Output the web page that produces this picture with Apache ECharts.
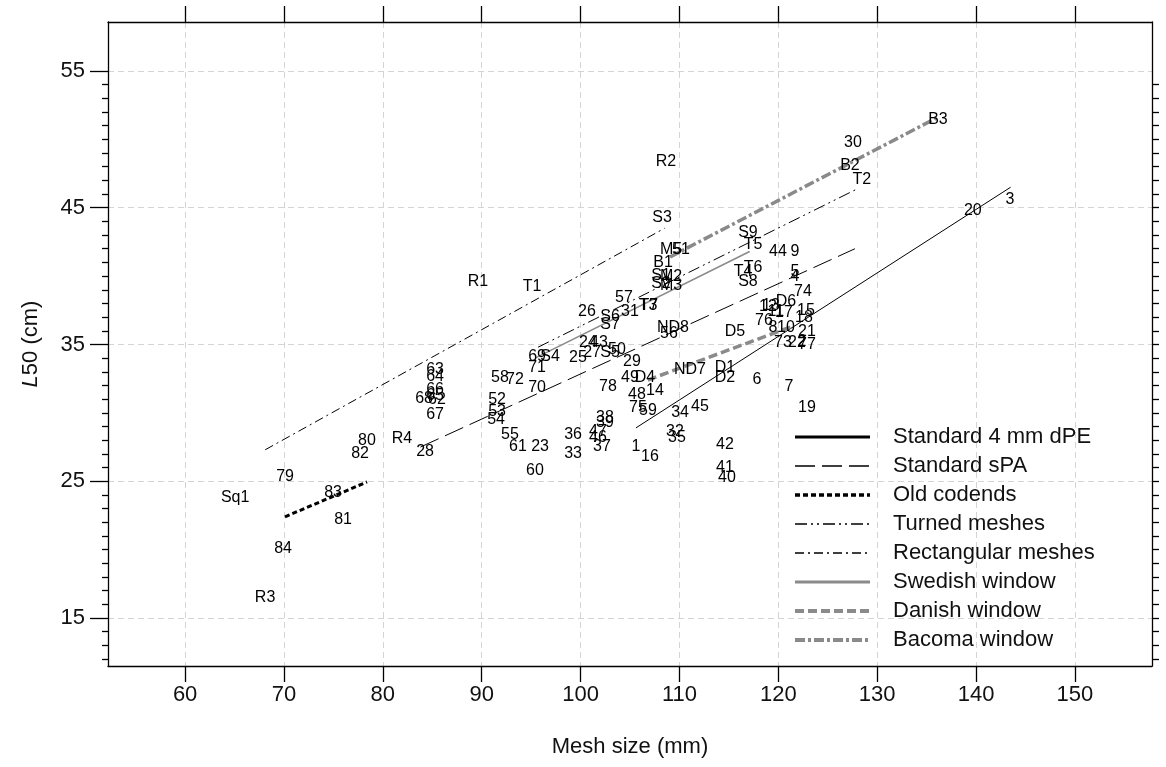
<!DOCTYPE html>
<html><head><meta charset="utf-8">
<script src="https://cdn.jsdelivr.net/npm/echarts@6/dist/echarts.min.js"></script>
<style>html,body{margin:0;padding:0;background:#fff}#c{width:1166px;height:767px}</style>
</head><body><div id="c"></div>
<script>
// ---- point labels (mesh size mm, L50 cm) ----
const labelNames = ['B3','30','B2','T2','20','3','R2','S3','M5','51','B1','S1','M2','S2','M3','R1','T1','57','T3','T7','31','26','S6','S7','ND8','56',
 '24','43','27','25','S5','50','29','69','S4','71','58','72','70','63','64','66','65','68','62','67','52','53','54','55','61','23','60','R4','28',
 '80','82','79','Sq1','83','81','84','R3','78','49','D4','14','48','75','59','34','45','38','39','36','47','46','33','37','1','16','32','35','42',
 '41','40','ND7','D1','D2','6','7','19','D5','S9','T5','44','9','T4','T6','S8','5','4','74','12','13','D6','11','17','15','18','76','8','10','21',
 '73','22','2','77'];
const labelMesh = [136.15,127.55,127.25,128.46,139.68,143.43,108.64,108.24,109.15,110.16,108.34,108.13,109.15,108.13,109.15,89.63,95.09,104.39,106.82,106.9,105.0,100.65,102.98,102.98,109.35,108.94,
 100.75,101.86,101.16,99.74,102.98,103.68,105.2,95.6,96.91,95.6,91.85,93.37,95.6,85.28,85.28,85.28,85.28,84.17,85.48,85.28,91.55,91.55,91.45,92.86,93.67,95.9,95.39,81.94,84.27,
 78.40,77.70,70.11,65.06,74.97,75.98,69.91,68.09,102.77,105.0,106.52,107.53,105.71,105.81,106.82,110.06,112.08,102.47,102.47,99.24,101.76,101.76,99.24,102.17,105.61,107.02,109.55,109.75,114.61,
 114.61,114.81,111.07,114.61,114.61,117.84,121.08,122.90,115.62,116.93,117.44,119.97,121.69,116.43,117.44,116.93,121.69,121.69,122.49,118.95,119.26,120.77,119.76,120.57,122.80,122.59,118.55,119.46,120.77,122.90,
 120.47,121.89,122.39,122.90];
const labelL50 = [51.42,49.73,48.05,47.03,44.76,45.57,48.35,44.25,41.91,41.91,40.96,40.01,39.94,39.42,39.28,39.57,39.20,38.40,37.82,37.86,37.38,37.38,37.01,36.43,36.21,35.77,
 35.11,35.11,34.38,34.01,34.38,34.60,33.72,34.09,34.09,33.28,32.55,32.40,31.82,33.14,32.62,31.67,31.23,31.01,30.94,29.84,30.94,30.06,29.48,28.38,27.50,27.50,25.75,28.09,27.14,
 27.94,26.99,25.31,23.78,24.14,22.17,20.05,16.46,31.89,32.55,32.55,31.60,31.31,30.36,30.14,29.99,30.43,29.63,29.26,28.38,28.60,28.16,26.99,27.50,27.50,26.77,28.60,28.16,27.65,
 25.97,25.24,33.14,33.28,32.55,32.40,31.89,30.36,35.91,43.15,42.28,41.76,41.76,40.30,40.59,39.57,40.30,39.94,38.84,37.74,37.82,38.11,37.38,37.30,37.45,36.94,36.72,36.21,36.21,35.91,
 35.11,35.11,35.18,34.96];

// ---- fitted lines per codend group ----
const lineNames = ['Standard 4 mm dPE','Standard sPA','Old codends','Turned meshes','Rectangular meshes','Swedish window','Danish window','Bacoma window'];
const lineMeshFrom = [105.6, 83.8, 70.1, 95.7, 68.1, 95.4, 106.8, 109.05];
const lineMeshTo   = [143.5, 127.75, 78.4, 128.05, 108.5, 117.1, 121.5, 136.1];
const lineL50From  = [28.9, 27.5, 22.4, 34.8, 27.3, 34.0, 32.4, 41.4];
const lineL50To    = [46.5, 42.0, 24.95, 46.4, 43.5, 41.8, 36.35, 51.6];

// ---- axes ----
const xTicks = [60,70,80,90,100,110,120,130,140,150];
const yTicks = [15,25,35,45,55];
const yMinor = [12,13,14,16,17,18,19,20,21,22,23,24,26,27,28,29,30,31,32,33,34,36,37,38,39,40,41,42,43,44,46,47,48,49,50,51,52,53,54];
const yAll = [12,13,14,15,16,17,18,19,20,21,22,23,24,25,26,27,28,29,30,31,32,33,34,35,36,37,38,39,40,41,42,43,44,45,46,47,48,49,50,51,52,53,54];
const xMin = 52.2, xMax = 157.8, yMin = 11.49, yMax = 58.58;

// ---- styles (not data) ----
const FONT = 'Liberation Sans, Arial, Helvetica, sans-serif';
const GREY = '#8a8a8a';
const lineStyles = [
  {color:'#000', width:1, type:'solid'},
  {color:'#000', width:1, type:[20,7]},
  {color:'#000', width:3, type:[5,3]},
  {color:'#000', width:1, type:[12,4,2,4,2,4]},
  {color:'#000', width:1, type:[9,4,2,4]},
  {color:GREY, width:1.6, type:'solid'},
  {color:GREY, width:3.5, type:[9,4]},
  {color:GREY, width:3.5, type:[10,3,3,3]}
];
const legendWidths = [3,1.6,3.5,1.6,1.6,3,4,4];

const pts = labelNames.map((n,i)=>[labelMesh[i], labelL50[i], n]);
const lineSeries = lineNames.map((n,i)=>({
  name:n, type:'line', symbol:'none', silent:true, z:2,
  xAxisIndex:0, yAxisIndex:0,
  color: lineStyles[i].color,
  lineStyle: lineStyles[i],
  data:[[lineMeshFrom[i], lineL50From[i]],[lineMeshTo[i], lineL50To[i]]]
}));

const axisLineStyle = {color:'#000', width:1.3};
const chart = echarts.init(document.getElementById('c'), null, {renderer:'canvas'});
chart.setOption({
  animation:false,
  backgroundColor:'#fff',
  textStyle:{fontFamily:FONT},
  grid:{left:108, top:22, width:1044, height:644, containLabel:false},
  legend:{
    orient:'vertical', left:793, top:426, itemGap:7, padding:0,
    itemWidth:75, itemHeight:14, selectedMode:false,
    itemStyle:{opacity:0},
    formatter: n => '{t|' + n + '}',
    textStyle:{fontFamily:FONT, fontSize:22, color:'#111',
      rich:{t:{fontFamily:FONT, fontSize:22, color:'#111', padding:[0,0,0,18]}}},
    data: lineNames.map((n,i)=>({name:n, itemStyle:{opacity:0}, lineStyle:Object.assign({}, lineStyles[i], {width:legendWidths[i]})}))
  },
  xAxis:[
    {type:'value', position:'bottom', min:xMin, max:xMax,
     axisLine:{show:true, onZero:false, lineStyle:axisLineStyle},
     axisTick:{show:true, customValues:xTicks, length:16, lineStyle:axisLineStyle},
     axisLabel:{customValues:xTicks, fontSize:22, color:'#111', margin:18, fontFamily:FONT},
     splitLine:{show:true, lineStyle:{color:'#d4d4d4', type:[6,4], width:1}},
     name:'Mesh size (mm)', nameLocation:'middle', nameGap:70,
     nameTextStyle:{fontSize:22, color:'#111', fontFamily:FONT}},
    {type:'value', position:'top', min:xMin, max:xMax,
     axisLine:{show:true, onZero:false, lineStyle:axisLineStyle},
     axisTick:{show:true, customValues:xTicks, length:16, lineStyle:axisLineStyle},
     axisLabel:{show:false}, splitLine:{show:false}}
  ],
  yAxis:[
    {type:'value', position:'left', min:yMin, max:yMax,
     axisLine:{show:true, onZero:false, lineStyle:axisLineStyle},
     axisTick:{show:true, customValues:yTicks, length:18, lineStyle:axisLineStyle},
     axisLabel:{customValues:yTicks, fontSize:22, color:'#111', margin:23, fontFamily:FONT},
     splitLine:{show:true, lineStyle:{color:'#d4d4d4', type:[6,4], width:1}},
     name:'{i|L}50 (cm)', nameLocation:'middle', nameGap:66,
     nameTextStyle:{fontSize:22, color:'#111', fontFamily:FONT, rich:{i:{fontStyle:'italic', fontSize:22, fontFamily:FONT, color:'#111'}}}},
    {type:'value', position:'left', min:yMin, max:yMax,
     axisLine:{show:false},
     axisTick:{show:true, customValues:yMinor, length:6, lineStyle:axisLineStyle},
     axisLabel:{show:false}, splitLine:{show:false}},
    {type:'value', position:'right', min:yMin, max:yMax,
     axisLine:{show:true, onZero:false, lineStyle:axisLineStyle},
     axisTick:{show:true, customValues:yAll, length:7, lineStyle:axisLineStyle},
     axisLabel:{show:false}, splitLine:{show:false}}
  ],
  series: lineSeries.concat([{
    name:'labels', type:'scatter', xAxisIndex:0, yAxisIndex:0, z:5, silent:true,
    symbolSize:0, itemStyle:{color:'#000', opacity:1},
    label:{show:true, position:'inside', formatter:p=>p.data[2], fontSize:16, color:'#000', opacity:1, textBorderWidth:0, fontFamily:FONT},
    data: pts
  }])
});
</script></body></html>
